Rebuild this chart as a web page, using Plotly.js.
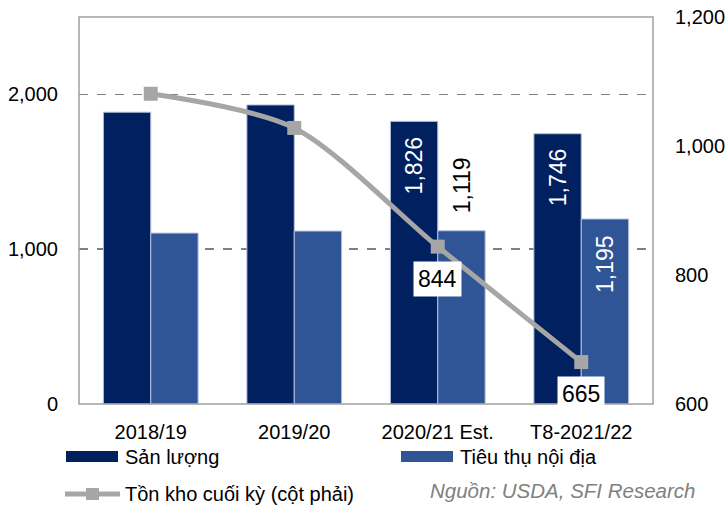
<!DOCTYPE html>
<html>
<head>
<meta charset="utf-8">
<script src="https://cdn.plot.ly/plotly-3.0.1.min.js"></script>
<style>
  html, body { margin: 0; padding: 0; background: #fff; }
  #chart { width: 726px; height: 506px; }
</style>
</head>
<body>
<div id="chart"></div>
<script>
const categories = ["2018/19", "2019/20", "2020/21 Est.", "T8-2021/22"];
const sanLuong = [1885, 1932, 1826, 1746];
const tieuThu = [1104, 1117, 1119, 1195];
const tonKho = [1081, 1028, 844, 665];
const sanLuongLabels = ["", "", "1,826", "1,746"];
const tieuThuLabels = ["", "", "1,119", "1,195"];
const tieuThuLabelInside = [false, false, false, true];
const tonKhoLabels = ["", "", "844", "665"];
const leftTicks = [0, 1000, 2000];
const leftTickText = ["0", "1,000", "2,000"];
const rightTicks = [600, 800, 1000, 1200];
const rightTickText = ["600", "800", "1,000", "1,200"];
const seriesNames = ["Sản lượng", "Tiêu thụ nội địa", "Tồn kho cuối kỳ (cột phải)"];
const sourceText = "Nguồn: USDA, SFI Research";

const FONT = "Liberation Sans, Arial, sans-serif";
const DARK = "#002060";
const LIGHT = "#2F5597";
const GRAY = "#A6A6A6";
const BAR_OFFSET = 23.7;

const traces = [
  {
    type: "bar", name: seriesNames[0], x: categories, y: sanLuong,
    marker: { color: DARK, line: { color: "#B4C0DC", width: 1 } },
    hoverinfo: "none", showlegend: false
  },
  {
    type: "bar", name: seriesNames[1], x: categories, y: tieuThu,
    marker: { color: LIGHT, line: { color: "#B4C0DC", width: 1 } },
    hoverinfo: "none", showlegend: false
  },
  {
    type: "scatter", mode: "lines+markers", name: seriesNames[2],
    x: categories, y: tonKho, yaxis: "y2",
    line: { color: GRAY, width: 5, shape: "spline", smoothing: 0.8 },
    marker: { symbol: "square", size: 14, color: GRAY },
    hoverinfo: "none", showlegend: false, cliponaxis: false
  }
];

const annotations = [];
sanLuong.forEach((v, i) => {
  if (sanLuongLabels[i]) {
    annotations.push({
      x: categories[i], y: v, xref: "x", yref: "y", xshift: -BAR_OFFSET, yshift: -13,
      text: sanLuongLabels[i], textangle: -90, showarrow: false,
      xanchor: "center", yanchor: "top",
      font: { family: FONT, size: 23, color: "#fff" }
    });
  }
});
tieuThu.forEach((v, i) => {
  if (tieuThuLabels[i]) {
    const inside = tieuThuLabelInside[i];
    annotations.push({
      x: categories[i], y: v, xref: "x", yref: "y", xshift: BAR_OFFSET, yshift: inside ? -14 : 16,
      text: tieuThuLabels[i], textangle: -90, showarrow: false,
      xanchor: "center", yanchor: inside ? "top" : "bottom",
      font: { family: FONT, size: 23, color: inside ? "#fff" : "#000" }
    });
  }
});
tonKho.forEach((v, i) => {
  if (tonKhoLabels[i]) {
    annotations.push({
      x: categories[i], y: v, xref: "x", yref: "y2",
      text: tonKhoLabels[i], showarrow: false, yshift: -32,
      bgcolor: "#fff", borderpad: 4,
      font: { family: FONT, size: 23, color: "#000" }
    });
  }
});
const px = v => (v - 79) / 574;
const py = v => -(v - 404) / 387;
// legend texts
annotations.push(
  { xref: "paper", yref: "paper", x: px(123), y: py(457), xanchor: "left", yanchor: "middle",
    text: seriesNames[0], showarrow: false, font: { family: FONT, size: 20, color: "#000" } },
  { xref: "paper", yref: "paper", x: px(458), y: py(457), xanchor: "left", yanchor: "middle",
    text: seriesNames[1], showarrow: false, font: { family: FONT, size: 20, color: "#000" } },
  { xref: "paper", yref: "paper", x: px(123), y: py(494), xanchor: "left", yanchor: "middle",
    text: seriesNames[2], showarrow: false, font: { family: FONT, size: 20, color: "#000" } },
  { xref: "paper", yref: "paper", x: px(697), y: py(490), xanchor: "right", yanchor: "middle",
    text: "<i>" + sourceText + "</i>", showarrow: false, font: { family: FONT, size: 20.5, color: "#808080" } }
);

const shapes = [
  { type: "rect", xref: "paper", yref: "paper", x0: 0, x1: 1, y0: 0, y1: 1,
    line: { color: "#A0A0A0", width: 1.5 }, layer: "above" },
  { type: "rect", xref: "paper", yref: "paper", x0: px(66), x1: px(118), y0: py(451), y1: py(462),
    fillcolor: DARK, line: { width: 0 } },
  { type: "rect", xref: "paper", yref: "paper", x0: px(401), x1: px(453), y0: py(451), y1: py(462),
    fillcolor: LIGHT, line: { width: 0 } },
  { type: "line", xref: "paper", yref: "paper", x0: px(65), x1: px(120), y0: py(494), y1: py(494),
    line: { color: GRAY, width: 5 } },
  { type: "rect", xref: "paper", yref: "paper", x0: px(86), x1: px(99), y0: py(488), y1: py(500),
    fillcolor: GRAY, line: { width: 0 } }
];

const layout = {
  width: 726, height: 506,
  margin: { l: 79, r: 73, t: 17, b: 102 },
  paper_bgcolor: "#fff", plot_bgcolor: "#fff",
  font: { family: FONT, size: 20, color: "#000" },
  barmode: "group", bargap: 0.34, bargroupgap: 0,
  showlegend: false,
  xaxis: {
    type: "category", showgrid: false, zeroline: false, showline: false,
    ticks: "outside", ticklen: 10, tickcolor: "rgba(0,0,0,0)",
    tickfont: { family: FONT, size: 20, color: "#000" }
  },
  yaxis: {
    range: [0, 2500], tickvals: leftTicks, ticktext: leftTickText,
    showgrid: true, gridcolor: "#808080", griddash: "dash", gridwidth: 1.5,
    zeroline: false, showline: false,
    ticks: "outside", ticklen: 16, tickcolor: "rgba(0,0,0,0)",
    tickfont: { family: FONT, size: 20, color: "#000" }
  },
  yaxis2: {
    overlaying: "y", side: "right", range: [600, 1200],
    tickvals: rightTicks, ticktext: rightTickText,
    showgrid: false, zeroline: false, showline: false,
    ticks: "outside", ticklen: 17, tickcolor: "rgba(0,0,0,0)",
    tickfont: { family: FONT, size: 20, color: "#000" }
  },
  annotations: annotations,
  shapes: shapes
};

Plotly.newPlot("chart", traces, layout, { displayModeBar: false, staticPlot: true });
</script>
</body>
</html>
